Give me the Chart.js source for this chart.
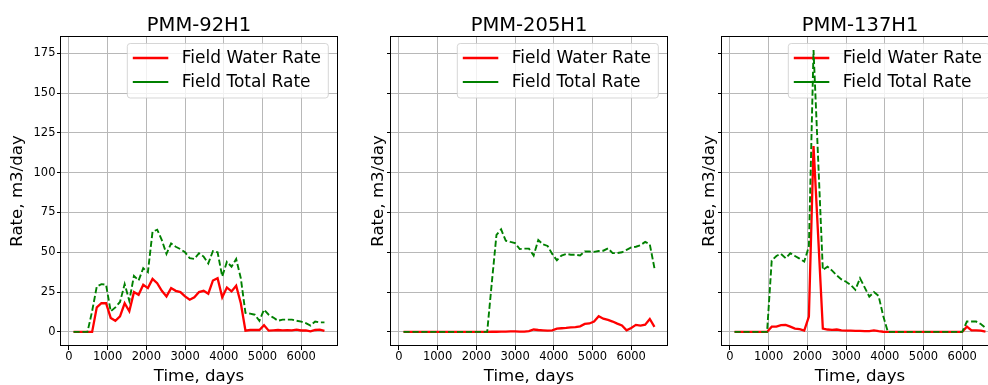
<!DOCTYPE html>
<html>
<head>
<meta charset="utf-8">
<script src="https://cdn.jsdelivr.net/npm/chart.js@4"></script>
<style>
  html, body { margin: 0; padding: 0; background: #fff; overflow: hidden; }
  #fig { position: relative; width: 988px; height: 385px; overflow: hidden; background: #fff; }
  #fig canvas { position: absolute; top: 0; }
</style>
</head>
<body>
<div id="fig">
  <canvas id="c1" width="345" height="385" style="left:0px"></canvas>
  <canvas id="c2" width="345" height="385" style="left:330px"></canvas>
  <canvas id="c3" width="345" height="385" style="left:661px"></canvas>
</div>
<script>
// Report dates (days since start), shared by all wells
const timeDays = [
  120, 240, 360, 480, 600, 720, 840, 960, 1080, 1200,
  1320, 1440, 1560, 1680, 1800, 1920, 2040, 2160, 2280, 2400,
  2520, 2640, 2760, 2880, 3000, 3120, 3240, 3360, 3480, 3600,
  3720, 3840, 3960, 4080, 4200, 4320, 4440, 4560, 4680, 4800,
  4920, 5040, 5160, 5280, 5400, 5520, 5640, 5760, 5880, 6000,
  6120, 6240, 6360, 6480, 6600
];

const wellNames = ['PMM-92H1', 'PMM-205H1', 'PMM-137H1'];
const seriesLabels = ['Field Water Rate', 'Field Total Rate'];

// PMM-92H1, m3/day
const water92H1 = [
  0, 0, 0, 0, 0,
  15.4, 18, 18, 8.8, 7, 9.8, 18, 13, 25, 23.3,
  29.6, 27.5, 33.3, 30.6, 25.8, 22.3, 27.5, 25.8, 25, 22.3,
  20.2, 21.7, 25, 25.8, 24, 32.3, 33.7, 21.7, 27.9, 25.4,
  29, 18, 0.8, 1.2, 1.2, 1.2, 4.2, 0.8, 1.0, 1.2,
  1.0, 1.1, 1.0, 1.4, 0.9, 1.0, 0.3, 1.2, 1.4, 0.6
];
const total92H1 = [
  0, 0, 0, 0, 13,
  28.5, 30, 29.6, 12.9, 15.4, 18.8, 30, 19.6, 35.2, 32.3,
  40, 37.5, 62.9, 64.2, 57.7, 49, 55.6, 53.5, 52, 50,
  46.3, 45.8, 49.4, 47.3, 43, 50.8, 50, 34.8, 44, 41,
  45.8, 33.7, 11.9, 11.5, 10.8, 7, 14, 10.8, 9, 7,
  7.7, 7.7, 7.7, 7, 6.5, 5.5, 4, 6.5, 6, 6
];

// PMM-205H1, m3/day
const water205H1 = [
  0, 0, 0, 0, 0, 0, 0, 0, 0, 0,
  0, 0, 0, 0, 0, 0, 0, 0, 0, 0.1,
  0.1, 0.2, 0.2, 0.3, 0.3, 0.2, 0.2, 0.5, 1.5, 1.2,
  1.0, 0.8, 1.0, 2.0, 2.3, 2.5, 2.8, 3.0, 3.5, 5,
  5.3, 6.5, 9.8, 8.3, 7.5, 6.5, 5.2, 4, 1, 2.5,
  4.4, 4, 4.5, 8.1, 3.2
];
const total205H1 = [
  0, 0, 0, 0, 0, 0, 0, 0, 0, 0,
  0, 0, 0, 0, 0, 0, 0, 0, 0, 31,
  61, 64.4, 57.3, 56.5, 55.8, 52, 52.3, 52.3, 48, 57.7,
  55, 54, 49, 45, 48, 49, 48.5, 48.5, 48, 50.5,
  50.5, 50.3, 50.8, 51, 52.5, 49.5, 49.5, 50, 51.5, 53,
  53.5, 54.5, 56.5, 55, 40
];

// PMM-137H1, m3/day
const water137H1 = [
  0, 0, 0, 0, 0, 0, 0, 0, 3.3, 3.3,
  4.2, 4.4, 3.3, 2.1, 1.7, 0.8, 9.6, 116.8, 60, 2.1,
  1.5, 1.3, 1.5, 1.0, 0.8, 0.8, 0.6, 0.6, 0.5, 0.5,
  1.0, 0.5, 0.1, 0, 0, 0, 0, 0, 0, 0,
  0, 0, 0, 0, 0, 0, 0, 0, 0, 0,
  3.3, 1.0, 1.0, 0.8, 0.2
];
const total137H1 = [
  0, 0, 0, 0, 0, 0, 0, 0, 44.8, 47.7,
  49, 46.3, 49.4, 47.7, 46, 44.2, 53.6, 177, 108, 38.9,
  41, 38.5, 35.5, 33, 31.5, 29.5, 26.4, 33.7, 28, 22.2,
  25, 22.6, 10, 0, 0, 0, 0, 0, 0, 0,
  0, 0, 0, 0, 0, 0, 0, 0, 0, 0,
  6.5, 6.5, 6.5, 5, 2.5
];

const xTickValues = [0, 1000, 2000, 3000, 4000, 5000, 6000];
const yTickValues = [0, 25, 50, 75, 100, 125, 150, 175];

const FONT = "'DejaVu Sans', 'Liberation Sans', sans-serif";
const WATER_COLOR = '#ff0000';
const TOTAL_COLOR = '#008000';
const GRID_COLOR = '#b8b8b8';

Chart.defaults.font.family = FONT;
Chart.defaults.color = '#000';

function toPoints(values) {
  return timeDays.map((t, i) => ({ x: t, y: values[i] }));
}

function roundRect(ctx, x, y, w, h, r) {
  ctx.beginPath();
  ctx.moveTo(x + r, y);
  ctx.lineTo(x + w - r, y);
  ctx.arcTo(x + w, y, x + w, y + r, r);
  ctx.lineTo(x + w, y + h - r);
  ctx.arcTo(x + w, y + h, x + w - r, y + h, r);
  ctx.lineTo(x + r, y + h);
  ctx.arcTo(x, y + h, x, y + h - r, r);
  ctx.lineTo(x, y + r);
  ctx.arcTo(x, y, x + r, y, r);
  ctx.closePath();
}

// Titles, axis labels, frame and the in-axes legend of each panel
const panelDecor = {
  id: 'panelDecor',
  beforeDatasetsDraw(chart, args, opts) {
    const { ctx, chartArea: a } = chart;
    const w = 201, h = 54.5;
    const x1 = a.right - 8.7, x0 = x1 - w, y0 = a.top + 7.5;
    ctx.save();
    roundRect(ctx, x0, y0, w, h, 3);
    ctx.fillStyle = 'rgba(255,255,255,0.8)';
    ctx.fill();
    ctx.strokeStyle = 'rgba(204,204,204,0.8)';
    ctx.lineWidth = 1;
    ctx.stroke();
    const rows = [
      { label: seriesLabels[0], color: WATER_COLOR, width: 2.3, y: a.top + 22 },
      { label: seriesLabels[1], color: TOTAL_COLOR, width: 1.9, y: a.top + 46 }
    ];
    ctx.font = '17px ' + FONT;
    ctx.textAlign = 'left';
    ctx.textBaseline = 'middle';
    rows.forEach(r => {
      ctx.beginPath();
      ctx.strokeStyle = r.color;
      ctx.lineWidth = r.width;
      ctx.moveTo(x0 + 5.5, r.y);
      ctx.lineTo(x0 + 41, r.y);
      ctx.stroke();
      ctx.fillStyle = '#000';
      ctx.fillText(r.label, x0 + 54.5, r.y + 0.5);
    });
    ctx.restore();
  },
  afterDatasetsDraw(chart) {
    const { ctx, chartArea: a } = chart;
    ctx.save();
    ctx.strokeStyle = '#000';
    ctx.lineWidth = 1;
    ctx.strokeRect(Math.round(a.left) - 0.5, Math.round(a.top) + 0.5,
                   Math.round(a.right - a.left) + 1, Math.round(a.bottom - a.top) - 1);
    ctx.restore();
  },
  afterDraw(chart, args, opts) {
    const { ctx, chartArea: a } = chart;
    const cx = (a.left + a.right) / 2;
    ctx.save();
    ctx.fillStyle = '#000';
    ctx.textAlign = 'center';
    ctx.textBaseline = 'alphabetic';
    ctx.font = '19.5px ' + FONT;
    ctx.fillText(opts.title, cx, 30.5);
    ctx.font = '16.6px ' + FONT;
    ctx.fillText('Time, days', cx, 381);
    ctx.translate(a.left - opts.yLabelGap, (a.top + a.bottom) / 2);
    ctx.rotate(-Math.PI / 2);
    ctx.textBaseline = 'middle';
    ctx.fillText('Rate, m3/day', 0, 0);
    ctx.restore();
  }
};

function makePanel(canvasId, title, water, total, showYTicks, yLabelGap) {
  return new Chart(document.getElementById(canvasId), {
    type: 'line',
    data: {
      datasets: [
        {
          label: seriesLabels[0],
          data: toPoints(water),
          borderColor: WATER_COLOR,
          borderWidth: 2.3,
          pointRadius: 0,
          tension: 0,
          fill: false,
          order: 2
        },
        {
          label: seriesLabels[1],
          data: toPoints(total),
          borderColor: TOTAL_COLOR,
          borderWidth: 1.9,
          borderDash: [6.2, 2.7],
          pointRadius: 0,
          tension: 0,
          fill: false,
          order: 1
        }
      ]
    },
    options: {
      responsive: false,
      animation: false,
      devicePixelRatio: 1,
      layout: { padding: { top: 36, right: 8, left: 0, bottom: 0 } },
      plugins: {
        legend: { display: false },
        title: { display: false },
        tooltip: { enabled: false },
        panelDecor: { title: title, yLabelGap: yLabelGap }
      },
      scales: {
        x: {
          type: 'linear',
          min: -204,
          max: 6924,
          afterBuildTicks: s => { s.ticks = xTickValues.map(v => ({ value: v })); },
          afterFit: s => { s.height = 39; },
          grid: { color: GRID_COLOR, lineWidth: 1, tickColor: '#000', tickLength: 4, tickWidth: 1 },
          border: { display: false },
          ticks: { font: { size: 11.5 }, color: '#000', padding: 0, maxRotation: 0,
                   callback: v => String(v) }
        },
        y: {
          type: 'linear',
          min: -8.85,
          max: 185.85,
          afterBuildTicks: s => { s.ticks = yTickValues.map(v => ({ value: v })); },
          afterFit: s => { s.width = 61; },
          grid: { color: GRID_COLOR, lineWidth: 1, tickColor: '#000', tickLength: 4, tickWidth: 1 },
          border: { display: false },
          ticks: { display: showYTicks, font: { size: 11.5 }, color: '#000', padding: 1.5,
                   callback: v => String(v) }
        }
      }
    },
    plugins: [panelDecor]
  });
}

makePanel('c1', wellNames[0], water92H1, total92H1, true, 43.5);
makePanel('c2', wellNames[1], water205H1, total205H1, false, 12.7);
makePanel('c3', wellNames[2], water137H1, total137H1, false, 12.7);
</script>
</body>
</html>
